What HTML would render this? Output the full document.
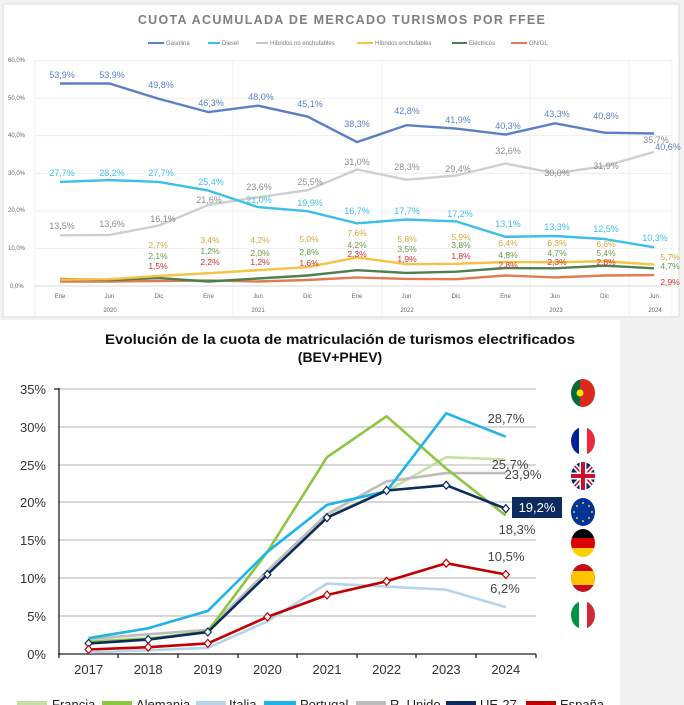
<!DOCTYPE html>
<html><head><meta charset="utf-8"><style>
html,body{margin:0;padding:0;background:#fff;}
svg{display:block;font-family:"Liberation Sans",sans-serif;}
</style></head><body>
<svg width="684" height="705" viewBox="0 0 684 705" xmlns="http://www.w3.org/2000/svg">
<defs>
<clipPath id="c1"><ellipse cx="583" cy="393" rx="12" ry="14"/></clipPath>
<clipPath id="c2"><ellipse cx="583" cy="441" rx="12" ry="14"/></clipPath>
<clipPath id="c3"><ellipse cx="583" cy="476" rx="12" ry="14"/></clipPath>
<clipPath id="c5"><ellipse cx="583" cy="543" rx="12" ry="14"/></clipPath>
<clipPath id="c6"><ellipse cx="583" cy="578" rx="12" ry="14"/></clipPath>
<clipPath id="c7"><ellipse cx="583" cy="615" rx="12" ry="14"/></clipPath>
</defs>
<!-- top panel -->
<rect x="0" y="0" width="684" height="320" fill="#f2f2f2"/>
<rect x="3" y="4" width="676" height="313" fill="#fff" stroke="#d9d9d9"/>
<text x="342" y="24" text-anchor="middle" font-size="12.5" font-weight="bold" fill="#7f7f7f" letter-spacing="1.3">CUOTA ACUMULADA DE MERCADO TURISMOS POR FFEE</text>
<g font-size="6" fill="#777">
<line x1="148" y1="43" x2="164" y2="43" stroke="#5b7fc6" stroke-width="2"/><text x="166" y="45">Gasolina</text>
<line x1="208" y1="43" x2="220" y2="43" stroke="#3cc0ea" stroke-width="2"/><text x="222" y="45">Diesel</text>
<line x1="256" y1="43" x2="268" y2="43" stroke="#c8c8c8" stroke-width="2"/><text x="270" y="45">Híbridos no enchufables</text>
<line x1="357" y1="43" x2="373" y2="43" stroke="#f5c242" stroke-width="2"/><text x="375" y="45">Híbridos enchufables</text>
<line x1="452" y1="43" x2="467" y2="43" stroke="#4e7f4e" stroke-width="2"/><text x="469" y="45">Eléctricos</text>
<line x1="511" y1="43" x2="527" y2="43" stroke="#e07b53" stroke-width="2"/><text x="529" y="45">GN/GL</text>
</g>
<g stroke="#ececec" stroke-width="0.8">
<line x1="35" y1="60.6" x2="672" y2="60.6"/><line x1="35" y1="98.2" x2="672" y2="98.2"/><line x1="35" y1="135.7" x2="672" y2="135.7"/><line x1="35" y1="173.3" x2="672" y2="173.3"/><line x1="35" y1="210.9" x2="672" y2="210.9"/><line x1="35" y1="248.4" x2="672" y2="248.4"/>
<line x1="35" y1="60" x2="35" y2="316"/><line x1="233" y1="60" x2="233" y2="316"/><line x1="382" y1="60" x2="382" y2="316"/><line x1="530" y1="60" x2="530" y2="316"/><line x1="629" y1="60" x2="629" y2="316"/><line x1="672" y1="60" x2="672" y2="316"/>
</g>
<line x1="35" y1="286" x2="672" y2="286" stroke="#d9d9d9"/>
<g font-size="6" fill="#666">
<text x="8" y="62">60,0%</text><text x="8" y="100">50,0%</text><text x="8" y="137">40,0%</text><text x="8" y="175">30,0%</text><text x="8" y="212">20,0%</text><text x="8" y="250">10,0%</text><text x="10" y="288">0,0%</text>
</g>
<g font-size="6" fill="#666" text-anchor="middle">
<text x="60" y="298">Ene</text><text x="109.5" y="298">Jun</text><text x="159" y="298">Dic</text><text x="208.5" y="298">Ene</text><text x="258" y="298">Jun</text><text x="307.5" y="298">Dic</text><text x="357" y="298">Ene</text><text x="406.5" y="298">Jun</text><text x="456" y="298">Dic</text><text x="505.5" y="298">Ene</text><text x="555" y="298">Jun</text><text x="604.5" y="298">Dic</text><text x="654" y="298">Jun</text>
<text x="110" y="312">2020</text><text x="258" y="312">2021</text><text x="407" y="312">2022</text><text x="556" y="312">2023</text><text x="655" y="312">2024</text>
</g>
<g fill="none" stroke-width="2.4" stroke-linejoin="round">
<polyline stroke="#e07b53" points="60,281.5 109.5,281.5 159,281.1 208.5,280.4 258,281.5 307.5,280 357,277.4 406.5,278.9 456,279.2 505.5,275.5 555,277.4 604.5,275.5 654,275.1"/>
<polyline stroke="#4e7f4e" points="60,278.9 109.5,280 159,278.1 208.5,281.5 258,278.5 307.5,275.5 357,270.2 406.5,272.9 456,271.7 505.5,268 555,268.3 604.5,265.7 654,268.3"/>
<polyline stroke="#f5c242" points="60,279.6 109.5,279.2 159,275.9 208.5,273.2 258,270.2 307.5,267.2 357,257.4 406.5,264.2 456,263.8 505.5,262 555,262.3 604.5,261.2 654,264.6"/>
<polyline stroke="#cfcfcf" points="60,235.3 109.5,234.9 159,225.5 208.5,204.8 258,197.3 307.5,190.2 357,169.5 406.5,179.7 456,175.5 505.5,163.5 555,173.3 604.5,166.2 654,151.9"/>
<polyline stroke="#3cc0ea" points="60,181.9 109.5,180.1 159,181.9 208.5,190.6 258,207.1 307.5,211.2 357,223.3 406.5,219.5 456,221.4 505.5,236.8 555,236 604.5,239 654,247.3"/>
<polyline stroke="#5b7fc6" points="60,83.5 109.5,83.5 159,98.9 208.5,112.1 258,105.7 307.5,116.6 357,142.1 406.5,125.2 456,128.6 505.5,134.6 555,123.3 604.5,132.7 654,133.5"/>
</g>
<g font-size="9" text-anchor="middle" fill="#5b7fc6">
<text x="62" y="78">53,9%</text><text x="112" y="78">53,9%</text><text x="161" y="88">49,8%</text><text x="211" y="106">46,3%</text><text x="261" y="100">48,0%</text><text x="310" y="107">45,1%</text><text x="357" y="127">38,3%</text><text x="407" y="114">42,8%</text><text x="458" y="123">41,9%</text><text x="508" y="129">40,3%</text><text x="557" y="117">43,3%</text><text x="606" y="119">40,8%</text><text x="668" y="150">40,6%</text>
</g>
<g font-size="9" text-anchor="middle" fill="#3cc0ea">
<text x="62" y="176">27,7%</text><text x="112" y="176">28,2%</text><text x="161" y="176">27,7%</text><text x="211" y="185">25,4%</text><text x="259" y="203">21,0%</text><text x="310" y="206">19,9%</text><text x="357" y="214">16,7%</text><text x="407" y="214">17,7%</text><text x="460" y="217">17,2%</text><text x="508" y="227">13,1%</text><text x="557" y="230">13,3%</text><text x="606" y="232">12,5%</text><text x="655" y="241">10,3%</text>
</g>
<g font-size="9" text-anchor="middle" fill="#8c8c8c">
<text x="62" y="229">13,5%</text><text x="112" y="227">13,6%</text><text x="163" y="222">16,1%</text><text x="209" y="203">21,6%</text><text x="259" y="190">23,6%</text><text x="310" y="185">25,5%</text><text x="357" y="165">31,0%</text><text x="407" y="170">28,3%</text><text x="458" y="172">29,4%</text><text x="508" y="154">32,6%</text><text x="557" y="176">30,0%</text><text x="606" y="169">31,9%</text><text x="656" y="143">35,7%</text>
</g>
<g font-size="8.5" text-anchor="middle" fill="#d4a838">
<text x="158" y="248">2,7%</text><text x="210" y="243">3,4%</text><text x="260" y="243">4,2%</text><text x="309" y="242">5,0%</text><text x="357" y="236">7,6%</text><text x="407" y="242">5,8%</text><text x="461" y="240">5,9%</text><text x="508" y="246">6,4%</text><text x="557" y="246">6,3%</text><text x="606" y="247">6,6%</text><text x="670" y="260">5,7%</text>
</g>
<g font-size="8.5" text-anchor="middle" fill="#6a9a4a">
<text x="158" y="259">2,1%</text><text x="210" y="254">1,2%</text><text x="260" y="256">2,0%</text><text x="309" y="255">2,8%</text><text x="357" y="248">4,2%</text><text x="407" y="252">3,5%</text><text x="461" y="248">3,8%</text><text x="508" y="258">4,8%</text><text x="557" y="256">4,7%</text><text x="606" y="256">5,4%</text><text x="670" y="269">4,7%</text>
</g>
<g font-size="8.5" text-anchor="middle" fill="#d03030">
<text x="158" y="269">1,5%</text><text x="210" y="265">2,2%</text><text x="260" y="265">1,2%</text><text x="309" y="266">1,6%</text><text x="357" y="257">2,3%</text><text x="407" y="262">1,9%</text><text x="461" y="259">1,8%</text><text x="508" y="268">2,8%</text><text x="557" y="265">2,3%</text><text x="606" y="265">2,8%</text><text x="670" y="285">2,9%</text>
</g>

<!-- bottom panel -->
<rect x="0" y="320" width="684" height="385" fill="#fff"/>
<rect x="620" y="320" width="64" height="385" fill="#f0f0f0"/>
<text x="340" y="344" text-anchor="middle" font-size="14" fill="#111" font-weight="bold" textLength="470" lengthAdjust="spacingAndGlyphs">Evolución de la cuota de matriculación de turismos electrificados</text>
<text x="340" y="362" text-anchor="middle" font-size="14" fill="#111" font-weight="bold">(BEV+PHEV)</text>
<g stroke="#cccccc" stroke-width="1.5">
<line x1="58" y1="389" x2="536" y2="389"/><line x1="58" y1="427" x2="536" y2="427"/><line x1="58" y1="465" x2="536" y2="465"/><line x1="58" y1="502" x2="536" y2="502"/><line x1="58" y1="540" x2="536" y2="540"/><line x1="58" y1="578" x2="536" y2="578"/><line x1="58" y1="616" x2="536" y2="616"/>
</g>
<g stroke="#222" stroke-width="1.3">
<line x1="59" y1="388" x2="59" y2="658"/><line x1="58" y1="654" x2="536" y2="654"/>
<line x1="54" y1="389" x2="59" y2="389"/><line x1="118" y1="654" x2="118" y2="658"/><line x1="178" y1="654" x2="178" y2="658"/><line x1="238" y1="654" x2="238" y2="658"/><line x1="297" y1="654" x2="297" y2="658"/><line x1="357" y1="654" x2="357" y2="658"/><line x1="416" y1="654" x2="416" y2="658"/><line x1="476" y1="654" x2="476" y2="658"/><line x1="536" y1="654" x2="536" y2="658"/>
</g>
<g font-size="13" fill="#333" text-anchor="end">
<text x="46" y="394">35%</text><text x="46" y="432">30%</text><text x="46" y="470">25%</text><text x="46" y="507">20%</text><text x="46" y="545">15%</text><text x="46" y="583">10%</text><text x="46" y="621">5%</text><text x="46" y="659">0%</text>
</g>
<g font-size="13" fill="#333" text-anchor="middle">
<text x="88.6" y="674">2017</text><text x="148.2" y="674">2018</text><text x="207.8" y="674">2019</text><text x="267.4" y="674">2020</text><text x="327" y="674">2021</text><text x="386.6" y="674">2022</text><text x="446.2" y="674">2023</text><text x="505.8" y="674">2024</text>
</g>
<g fill="none" stroke-width="2.6" stroke-linejoin="round">
<polyline stroke="#b8d4ea" points="88.6,652.5 148.2,650.2 207.8,647.9 267.4,621.4 327,583.6 386.6,586.6 446.2,589.7 505.8,607.1"/>
<polyline stroke="#c5e0a5" points="88.6,641.1 148.2,638.1 207.8,632.8 267.4,570.7 327,515.5 386.6,491.2 446.2,457.2 505.8,459.5"/>
<polyline stroke="#bdbdbd" points="88.6,638.9 148.2,634.3 207.8,629.8 267.4,570.7 327,514 386.6,481.4 446.2,473.1 505.8,473.1"/>
<polyline stroke="#8cc63f" points="88.6,641.9 148.2,638.9 207.8,631.3 267.4,551.8 327,457.2 386.6,416.3 446.2,468.5 505.8,515.5"/>
<polyline stroke="#1fb4e8" points="88.6,638.1 148.2,628.3 207.8,610.9 267.4,551.8 327,504.9 386.6,491.2 446.2,413.3 505.8,436.7"/>
<polyline stroke="#0d2b5e" points="88.6,643.4 148.2,639.6 207.8,632 267.4,574.5 327,517.7 386.6,490.5 446.2,485.2 505.8,508.7"/>
<polyline stroke="#c00000" points="88.6,649.5 148.2,647.2 207.8,643.4 267.4,616.9 327,595 386.6,581.3 446.2,563.2 505.8,574.5"/>
</g>
<g fill="#fff" stroke="#0d2b5e" stroke-width="1.2">
<path d="M88.6 639.4l3.5 4-3.5 4-3.5-4z"/><path d="M148.2 635.6l3.5 4-3.5 4-3.5-4z"/><path d="M207.8 628l3.5 4-3.5 4-3.5-4z"/><path d="M267.4 570.5l3.5 4-3.5 4-3.5-4z"/><path d="M327 513.7l3.5 4-3.5 4-3.5-4z"/><path d="M386.6 486.5l3.5 4-3.5 4-3.5-4z"/><path d="M446.2 481.2l3.5 4-3.5 4-3.5-4z"/><path d="M505.8 504.7l3.5 4-3.5 4-3.5-4z"/>
</g>
<g fill="#fff" stroke="#c00000" stroke-width="1.2">
<path d="M88.6 645.5l3.5 4-3.5 4-3.5-4z"/><path d="M148.2 643.2l3.5 4-3.5 4-3.5-4z"/><path d="M207.8 639.4l3.5 4-3.5 4-3.5-4z"/><path d="M267.4 612.9l3.5 4-3.5 4-3.5-4z"/><path d="M327 591l3.5 4-3.5 4-3.5-4z"/><path d="M386.6 577.3l3.5 4-3.5 4-3.5-4z"/><path d="M446.2 559.2l3.5 4-3.5 4-3.5-4z"/><path d="M505.8 570.5l3.5 4-3.5 4-3.5-4z"/>
</g>
<g font-size="13" fill="#444" text-anchor="middle">
<text x="506" y="423">28,7%</text><text x="510" y="469">25,7%</text><text x="523" y="479">23,9%</text><text x="517" y="534">18,3%</text><text x="506" y="561">10,5%</text><text x="505" y="593">6,2%</text>
</g>
<rect x="512" y="497" width="50" height="21" fill="#0d2b5e"/>
<text x="537" y="512" text-anchor="middle" font-size="13" fill="#fff">19,2%</text>
<!-- flags -->
<g clip-path="url(#c1)"><rect x="570" y="378" width="10" height="30" fill="#046a38"/><rect x="580" y="378" width="20" height="30" fill="#da291c"/><circle cx="580" cy="393" r="3.5" fill="#ffe000"/></g>
<g clip-path="url(#c2)"><rect x="570" y="426" width="9" height="30" fill="#002395"/><rect x="579" y="426" width="8" height="30" fill="#fff"/><rect x="587" y="426" width="10" height="30" fill="#ed2939"/></g>
<g clip-path="url(#c3)"><rect x="570" y="461" width="28" height="30" fill="#012169"/><path d="M570 461L598 491M598 461L570 491" stroke="#fff" stroke-width="5"/><path d="M570 461L598 491M598 461L570 491" stroke="#c8102e" stroke-width="1.6"/><path d="M583 461V491M570 476H598" stroke="#fff" stroke-width="7"/><path d="M583 461V491M570 476H598" stroke="#c8102e" stroke-width="4"/></g>
<ellipse cx="583" cy="512" rx="12" ry="14" fill="#003399"/>
<g fill="#ffcc00"><circle cx="583" cy="503" r="1"/><circle cx="583" cy="521" r="1"/><circle cx="574" cy="512" r="1"/><circle cx="592" cy="512" r="1"/><circle cx="577" cy="506" r="1"/><circle cx="589" cy="506" r="1"/><circle cx="577" cy="518" r="1"/><circle cx="589" cy="518" r="1"/></g>
<g clip-path="url(#c5)"><rect x="570" y="528" width="28" height="10" fill="#000"/><rect x="570" y="538" width="28" height="10" fill="#dd0000"/><rect x="570" y="548" width="28" height="10" fill="#ffce00"/></g>
<g clip-path="url(#c6)"><rect x="570" y="563" width="28" height="30" fill="#c60b1e"/><rect x="570" y="571" width="28" height="14" fill="#ffc400"/></g>
<g clip-path="url(#c7)"><rect x="570" y="600" width="9" height="30" fill="#009246"/><rect x="579" y="600" width="8" height="30" fill="#fff"/><rect x="587" y="600" width="10" height="30" fill="#ce2b37"/></g>
<!-- legend (clipped) -->
<g stroke-width="4">
<line x1="17" y1="703" x2="47" y2="703" stroke="#c5e0a5"/><line x1="102" y1="703" x2="132" y2="703" stroke="#8cc63f"/><line x1="196" y1="703" x2="226" y2="703" stroke="#b8d4ea"/><line x1="264" y1="703" x2="296" y2="703" stroke="#1fb4e8"/><line x1="356" y1="703" x2="386" y2="703" stroke="#bdbdbd"/><line x1="446" y1="703" x2="476" y2="703" stroke="#0d2b5e"/><line x1="526" y1="703" x2="556" y2="703" stroke="#c00000"/>
</g>
<g font-size="13" fill="#222">
<text x="52" y="709">Francia</text><text x="136" y="709">Alemania</text><text x="229" y="709">Italia</text><text x="300" y="709">Portugal</text><text x="390" y="709">R. Unido</text><text x="480" y="709">UE-27</text><text x="560" y="709">España</text>
</g>
</svg>
</body></html>
